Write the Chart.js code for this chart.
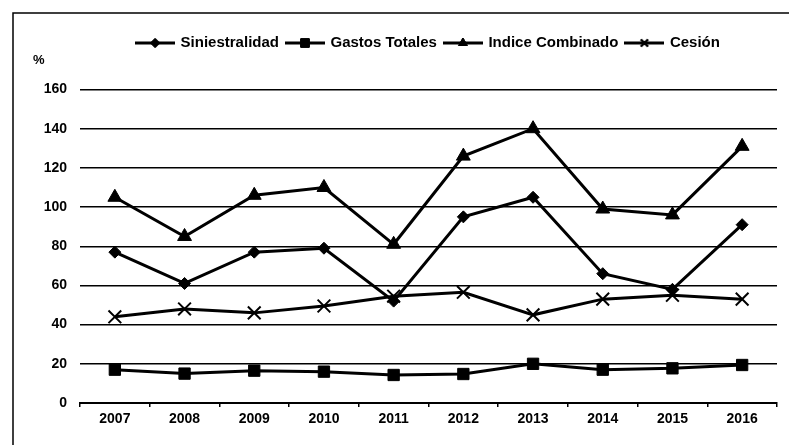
<!DOCTYPE html>
<html>
<head>
<meta charset="utf-8">
<script src="https://cdn.jsdelivr.net/npm/chart.js@4/dist/chart.umd.min.js"></script>
<style>
html,body{margin:0;padding:0;background:#fff;}
#wrap{position:relative;width:789px;height:445px;}
</style>
</head>
<body>
<div id="wrap"><canvas id="c" width="789" height="445"></canvas></div>
<script>
// ---- data ----
const years = ['2007','2008','2009','2010','2011','2012','2013','2014','2015','2016'];
const seriesNames = ['Siniestralidad','Gastos Totales','Indice Combinado','Cesión'];
const siniestralidad  = [77, 61, 77, 79, 52, 95, 105, 66, 58, 91];
const gastosTotales   = [17, 15, 16.5, 16, 14.3, 14.8, 20, 17, 17.7, 19.4];
const indiceCombinado = [105, 85, 106, 110, 81, 126, 140, 99, 96, 131];
const cesion          = [44, 48, 46, 49.5, 54.5, 56.5, 45, 53, 55, 53];
const yTicks = [0, 20, 40, 60, 80, 100, 120, 140, 160];
const unitLabel = '%';

const FONT = '"Liberation Sans", Arial, sans-serif';

const markers = [
  {style:'rectRot',  radius:6, legendRadius:4.5, bw:1},
  {style:'rect',     radius:8, legendRadius:6,   bw:1},
  {style:'triangle', radius:8, legendRadius:5,   bw:1},
  {style:'crossRot', radius:9, legendRadius:5,   bw:2}
];
const seriesData = [siniestralidad, gastosTotales, indiceCombinado, cesion];

function legendImage(m) {
  const cv = document.createElement('canvas');
  cv.width = 40; cv.height = 14;
  const g = cv.getContext('2d');
  g.strokeStyle = '#000'; g.lineWidth = 3;
  g.beginPath(); g.moveTo(0, 7); g.lineTo(40, 7); g.stroke();
  g.fillStyle = '#000'; g.lineWidth = m.bw;
  Chart.helpers.drawPoint(g, {pointStyle: m.style, radius: m.legendRadius, borderWidth: m.bw, rotation: 0}, 20, 7);
  g.fill(); g.stroke();
  return cv;
}
const legendImgs = markers.map(legendImage);

const datasets = seriesNames.map((name, i) => ({
  label: name,
  data: seriesData[i],
  borderColor: '#000',
  backgroundColor: '#000',
  borderWidth: 3,
  pointStyle: markers[i].style,
  pointRadius: markers[i].radius,
  pointBorderWidth: markers[i].bw,
  pointBackgroundColor: '#000',
  pointBorderColor: '#000',
  tension: 0,
  clip: false
}));

const LEGEND_H = 62;
const framePlugin = {
  id: 'frameAndUnit',
  afterInit(chart) {
    const lg = chart.legend;
    if (lg) {
      const orig = lg.fit;
      lg.fit = function() { orig.call(this); this.height = LEGEND_H; };
    }
  },
  beforeDraw(chart) {
    const ctx = chart.ctx;
    ctx.save();
    ctx.fillStyle = '#fff';
    ctx.fillRect(0, 0, chart.width, chart.height);
    ctx.strokeStyle = '#000';
    ctx.lineWidth = 1.5;
    ctx.beginPath();
    ctx.moveTo(13, 445); ctx.lineTo(13, 13); ctx.lineTo(789, 13);
    ctx.stroke();
    ctx.fillStyle = '#000';
    ctx.font = 'bold 13px ' + FONT;
    ctx.textBaseline = 'middle';
    ctx.textAlign = 'left';
    ctx.fillText(unitLabel, 33, 60);
    ctx.restore();
  }
};

new Chart(document.getElementById('c'), {
  type: 'line',
  data: { labels: years, datasets },
  plugins: [framePlugin],
  options: {
    responsive: false,
    devicePixelRatio: 1,
    animation: false,
    layout: { padding: { top: 27.5, left: 0, right: 12, bottom: 0 } },
    plugins: {
      tooltip: { enabled: false },
      legend: {
        position: 'top',
        fullSize: false,
        align: 'center',
        labels: {
          color: '#000',
          font: { family: FONT, size: 15, weight: 'bold' },
          usePointStyle: true,
          pointStyleWidth: 36,
          padding: 8,
          generateLabels(chart) {
            return chart.data.datasets.map((ds, i) => ({
              text: ds.label,
              pointStyle: legendImgs[i],
              fillStyle: '#000',
              strokeStyle: '#000',
              lineWidth: 0,
              fontColor: '#000',
              hidden: false,
              datasetIndex: i
            }));
          }
        }
      }
    },
    scales: {
      x: {
        type: 'category',
        offset: true,
        afterFit(s) { s.height = 42; },
        grid: { display: true, drawOnChartArea: false, drawTicks: true, tickLength: 4, color: '#000', lineWidth: 1.5, offset: true },
        border: { display: true, color: '#000', width: 2 },
        ticks: { color: '#000', font: { family: FONT, size: 14, weight: 'bold' }, padding: 4, maxRotation: 0 }
      },
      y: {
        min: 0, max: 160,
        afterFit(s) { s.width = 80; },
        afterBuildTicks(s) { s.ticks = yTicks.map(v => ({ value: v })); },
        grid: { color: '#000', lineWidth: 1.5, drawTicks: false },
        border: { display: false },
        ticks: { color: '#000', font: { family: FONT, size: 14, weight: 'bold' }, padding: 13 }
      }
    }
  }
});
</script>
</body>
</html>
